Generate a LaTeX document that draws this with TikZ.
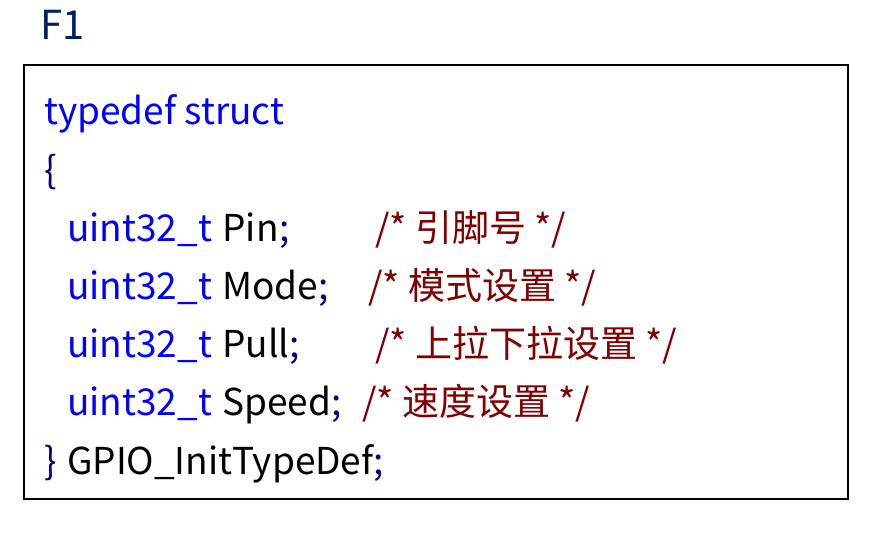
\documentclass[tikz,border=0pt]{standalone}
\usepackage{fontspec}
\setmainfont{Noto Sans CJK SC}
\definecolor{kw}{RGB}{0,0,255}
\definecolor{nv}{RGB}{0,0,128}
\definecolor{cm}{RGB}{128,0,0}
\definecolor{ttl}{RGB}{0,32,96}
\begin{document}
\begin{tikzpicture}[x=1pt,y=-1pt,
  t/.style={anchor=base west,inner sep=0pt,font=\fontsize{37}{40}\selectfont},
  r/.style={t,anchor=base west}]
\useasboundingbox (0,0) rectangle (872,535);
\draw[line width=1.5pt] (24,65) rectangle (848,499);
\node[t,text=ttl,font=\fontsize{40}{42}\selectfont] (f1) at (40,40) {F1};
\node[t,text=kw] (l1) at (44,124) {typedef struct};
\node[t,text=nv] (l2) at (44,183) {\{};
\foreach \y/\n/\c/\cx [count=\i] in {241/Pin/引脚号/375, 299/Mode/模式设置/368, 357/Pull/上拉下拉设置/375, 415/Speed/速度设置/362}{
  \node[t,text=kw] (u\i) at (67,\y) {uint32\_t};
  \node[r] (n\i) at ([xshift=10pt]u\i.base east) {\n};
  \node[r,text=nv] (s\i) at (n\i.base east) {;};
  \node[t,text=cm] (c\i) at (\cx,\y) {/* \c\ */};
}
\node[t,text=nv] (b) at (44,474) {\}};
\node[r] (g) at ([xshift=10pt]b.base east) {GPIO\_InitTypeDef};
\node[r,text=nv] (gs) at (g.base east) {;};
\end{tikzpicture}
\end{document}
